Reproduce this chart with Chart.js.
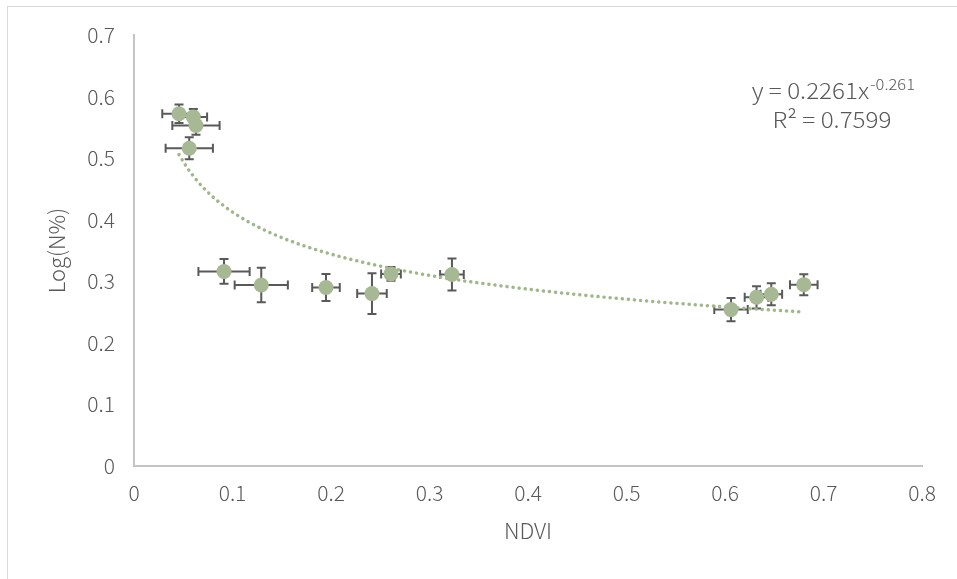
<!DOCTYPE html>
<html>
<head>
<meta charset="utf-8">
<script src="https://cdn.jsdelivr.net/npm/chart.js@4.4.1/dist/chart.umd.min.js"></script>
<style>
  html, body { margin: 0; padding: 0; background: #ffffff; overflow: hidden; }
  #wrap { position: relative; width: 957px; height: 579px; }
  #frame { position: absolute; left: 7px; top: 6px; width: 1000px; height: 700px; border: 1px solid #d9d9d9; box-sizing: border-box; }
  #c { position: absolute; left: 0; top: 0; }
</style>
</head>
<body>
<div id="wrap">
  <div id="frame"></div>
  <canvas id="c" width="957" height="579"></canvas>
</div>
<script>
// Measured samples: NDVI vs Log(N%) with standard errors on both axes
const ndvi     = [0.0457, 0.0602, 0.0629, 0.0561, 0.0914, 0.1292, 0.1949, 0.2416, 0.2609, 0.3228, 0.6061, 0.6320, 0.6470, 0.6800];
const logN     = [0.572,  0.567,  0.553,  0.516,  0.316,  0.294,  0.290,  0.280,  0.312,  0.311,  0.254,  0.274,  0.279,  0.2945];
const ndviErr  = [0.017,  0.014,  0.024,  0.024,  0.026,  0.027,  0.014,  0.015,  0.010,  0.012,  0.017,  0.012,  0.011,  0.014];
const logNErr  = [0.015,  0.013,  0.015,  0.018,  0.020,  0.028,  0.022,  0.033,  0.011,  0.026,  0.019,  0.018,  0.018,  0.017];

// Axis ticks
const xTicks = [0, 0.1, 0.2, 0.3, 0.4, 0.5, 0.6, 0.7, 0.8];
const yTicks = [0, 0.1, 0.2, 0.3, 0.4, 0.5, 0.6, 0.7];

// Power trendline y = a * x^b and its fit statistic
const trendA = 0.2261;
const trendB = -0.261;
const trendR2 = 0.7599;

const markerColor = '#a6b894';
const trendColor = '#9fb889';
const textColor = '#595959';
const fontFamily = '"Noto Sans CJK SC", "Noto Sans", sans-serif';

// Trendline sampled along the fitted curve between the smallest and largest NDVI
const xMin = Math.min(...ndvi), xMax = Math.max(...ndvi);
const trendPts = [];
for (let i = 0; i <= 120; i++) {
  const x = xMin + (xMax - xMin) * i / 120;
  trendPts.push({ x: x, y: trendA * Math.pow(x, trendB) });
}

const points = ndvi.map((x, i) => ({ x: x, y: logN[i] }));

// Error bars (horizontal and vertical, with caps) drawn under the markers
const errorBars = {
  id: 'errorBars',
  beforeDatasetsDraw(chart) {
    const { ctx, scales: { x: xs, y: ys } } = chart;
    const cap = 4.5;
    ctx.save();
    ctx.strokeStyle = '#595959';
    ctx.lineWidth = 2;
    ctx.lineCap = 'butt';
    ndvi.forEach((xv, i) => {
      const px = xs.getPixelForValue(xv);
      const py = ys.getPixelForValue(logN[i]);
      const xl = xs.getPixelForValue(xv - ndviErr[i]);
      const xr = xs.getPixelForValue(xv + ndviErr[i]);
      const yt = ys.getPixelForValue(logN[i] + logNErr[i]);
      const yb = ys.getPixelForValue(logN[i] - logNErr[i]);
      ctx.beginPath();
      ctx.moveTo(xl, py); ctx.lineTo(xr, py);
      ctx.moveTo(xl, py - cap); ctx.lineTo(xl, py + cap);
      ctx.moveTo(xr, py - cap); ctx.lineTo(xr, py + cap);
      ctx.moveTo(px, yt); ctx.lineTo(px, yb);
      ctx.moveTo(px - cap, yt); ctx.lineTo(px + cap, yt);
      ctx.moveTo(px - cap, yb); ctx.lineTo(px + cap, yb);
      ctx.stroke();
    });
    ctx.restore();
  }
};

// Trendline equation and R² label in the upper right (slightly widened lettering)
const equationLabel = {
  id: 'equationLabel',
  afterDraw(chart) {
    const { ctx } = chart;
    const sx = 1.1;
    ctx.save();
    ctx.fillStyle = textColor;
    ctx.textBaseline = 'alphabetic';
    const main = 'y = ' + trendA.toFixed(4) + 'x';
    const sup = trendB.toFixed(3);
    const mainFont = '300 22px ' + fontFamily;
    const supFont = '300 15px ' + fontFamily;
    ctx.font = mainFont;
    const wMain = ctx.measureText(main).width * sx;
    ctx.font = supFont;
    const wSup = ctx.measureText(sup).width * sx;
    const right = 914;
    const x0 = right - wMain - wSup;

    ctx.save();
    ctx.translate(x0, 99);
    ctx.scale(sx, 1);
    ctx.font = mainFont;
    ctx.textAlign = 'left';
    ctx.fillText(main, 0, 0);
    ctx.restore();

    ctx.save();
    ctx.translate(x0 + wMain + 1, 90);
    ctx.scale(sx, 1);
    ctx.font = supFont;
    ctx.textAlign = 'left';
    ctx.fillText(sup, 0, 0);
    ctx.restore();

    ctx.save();
    ctx.translate(832, 128);
    ctx.scale(sx, 1);
    ctx.font = mainFont;
    ctx.textAlign = 'center';
    ctx.fillText('R² = ' + trendR2.toFixed(4), 0, 0);
    ctx.restore();

    ctx.restore();
  }
};

new Chart(document.getElementById('c'), {
  type: 'scatter',
  data: {
    datasets: [
      {
        label: 'Log(N%)',
        data: points,
        backgroundColor: markerColor,
        borderColor: markerColor,
        pointRadius: 7.5,
        pointHoverRadius: 7.5,
        borderWidth: 0
      },
      {
        type: 'line',
        label: 'Power trend',
        data: trendPts,
        borderColor: trendColor,
        borderWidth: 3.5,
        borderDash: [0.1, 6],
        borderCapStyle: 'round',
        pointRadius: 0,
        fill: false,
        tension: 0
      }
    ]
  },
  options: {
    responsive: false,
    animation: false,
    events: [],
    layout: { padding: { left: 0, right: 35, top: 35, bottom: 0 } },
    plugins: {
      legend: { display: false },
      tooltip: { enabled: false }
    },
    scales: {
      x: {
        type: 'linear',
        min: 0, max: 0.8,
        afterBuildTicks(scale) { scale.ticks = xTicks.map(v => ({ value: v })); },
        afterFit(scale) { scale.height = 579 - 466; },
        border: { display: true, color: '#c4c4c4', width: 2 },
        grid: { display: false, drawTicks: false },
        ticks: {
          padding: 14,
          color: textColor,
          font: { family: fontFamily, size: 21, weight: 300 },
          callback: v => String(v)
        },
        title: {
          display: true,
          text: 'NDVI',
          color: textColor,
          font: { family: fontFamily, size: 22, weight: 300 },
          padding: { top: 0, bottom: 35 }
        }
      },
      y: {
        type: 'linear',
        min: 0, max: 0.7,
        afterBuildTicks(scale) { scale.ticks = yTicks.map(v => ({ value: v })); },
        afterFit(scale) { scale.width = 134; },
        border: { display: true, color: '#c4c4c4', width: 2 },
        grid: { display: false, drawTicks: false },
        ticks: {
          padding: 19,
          color: textColor,
          font: { family: fontFamily, size: 21, weight: 300 },
          callback: v => String(v)
        },
        title: {
          display: true,
          text: 'Log(N%)',
          color: textColor,
          font: { family: fontFamily, size: 22, weight: 300 },
          padding: { top: 43, bottom: 0 }
        }
      }
    }
  },
  plugins: [errorBars, equationLabel]
});
</script>
</body>
</html>
